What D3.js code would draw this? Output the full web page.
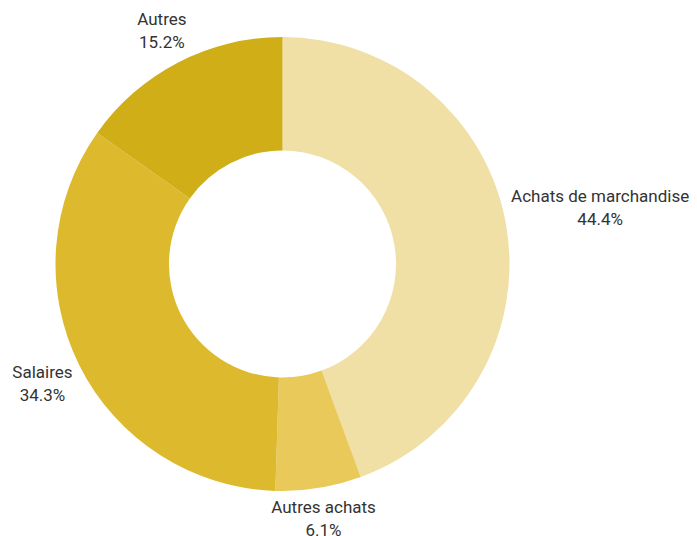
<!DOCTYPE html>
<html><head><meta charset="utf-8">
<script src="https://cdn.jsdelivr.net/npm/d3@7"></script>
<style>body{margin:0;background:#fff}</style></head>
<body><svg id="c" width="697" height="536"></svg>
<script>
const categories = ["Achats de marchandise", "Autres achats", "Salaires", "Autres"];
const values = [44.4, 6.1, 34.3, 15.2];
const colors = ["#F0E0A6", "#E8C95A", "#DDB92E", "#D0AE18"];

const W = 697, H = 536, cx = 282.5, cy = 264, R = 227, r = 113.5;
const svg = d3.select("#c");
const g = svg.append("g").attr("transform", `translate(${cx},${cy})`);
const data = categories.map((c, i) => ({cat: c, val: values[i], col: colors[i]}));
const pie = d3.pie().value(d => d.val).sort(null);
const arc = d3.arc().innerRadius(r).outerRadius(R);
const arcs = pie(data);
g.selectAll("path").data(arcs).join("path").attr("d", arc).attr("fill", d => d.data.col);

const fs = 17, lh = 23, clear = 231;
arcs.forEach(a => {
  const m = (a.startAngle + a.endAngle) / 2;
  const t = g.append("text").attr("font-family", "Roboto, sans-serif").attr("font-size", fs)
    .attr("fill", "#333").attr("text-anchor", "middle");
  const l1 = t.append("tspan").attr("x", 0).attr("dy", 0).text(a.data.cat);
  const l2 = t.append("tspan").attr("x", 0).attr("dy", lh).text(d3.format(".1f")(a.data.val) + "%");
  const hw = Math.max(l1.node().getComputedTextLength(), l2.node().getComputedTextLength()) / 2;
  const hh = lh;
  const ux = Math.sin(m), uy = -Math.cos(m);
  let lo = 0, hi = 600;
  for (let k = 0; k < 60; k++) {
    const s = (lo + hi) / 2;
    const x = s * ux, y = s * uy;
    const nx = Math.max(0, Math.abs(x) - hw), ny = Math.max(0, Math.abs(y) - hh);
    if (Math.hypot(nx, ny) < clear) lo = s; else hi = s;
  }
  const px = hi * ux, py = hi * uy;
  t.attr("transform", `translate(${px},${py - 5.5})`);
});
</script></body></html>
